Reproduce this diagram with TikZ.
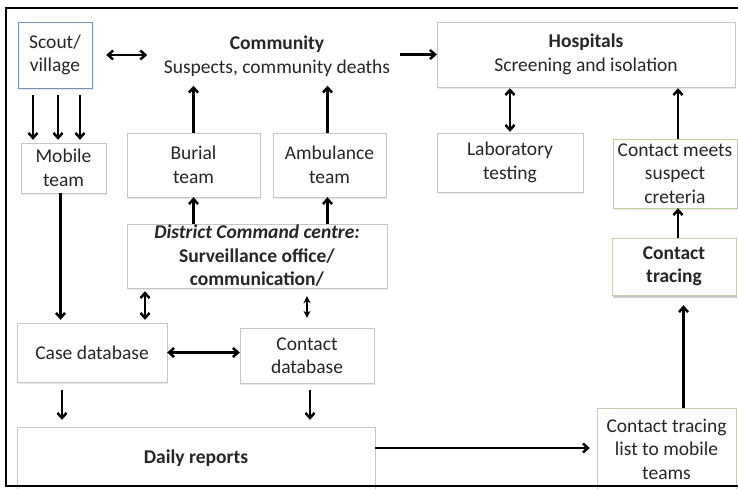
\documentclass[tikz,border=0pt]{standalone}
\usepackage{fontspec}
\setmainfont{Carlito}
\usepackage{xcolor}
\usetikzlibrary{arrows.meta,shadows}

\definecolor{scoutblue}{RGB}{120,145,180}
\definecolor{meetgreen}{RGB}{190,210,150}
\definecolor{tracegray}{RGB}{200,205,180}

\tikzset{
  box/.style={draw=black!22, fill=white, text=black!85, align=center, inner sep=1pt,
    drop shadow={shadow xshift=0.6pt, shadow yshift=-1.5pt, opacity=0.18}},
  arr/.style={->, line width=2.5pt},
  dbl/.style={<->, line width=2.5pt}
}

\begin{document}
\begin{tikzpicture}[x=1pt, y=-1pt, font=\fontsize{19.5}{23.5}\selectfont,
  >={Straight Barb[length=5pt,width=9pt]}]
  \useasboundingbox (0,0) rectangle (738,488);
  \fill[white] (0,0) rectangle (738,488);

  % boxes
  \node[box, draw=scoutblue, minimum width=74, minimum height=66] (scout) at (55,55) {Scout/\\village};
  \node[text=black!85, align=center] (community) at (277,56) {\textbf{Community}\\Suspects, community deaths};
  \node[box, minimum width=298, minimum height=65] (hosp) at (586,54.5) {\textbf{Hospitals}\\Screening and isolation};
  \node[box, minimum width=85, minimum height=50] (mobile) at (63.5,168) {Mobile\\team};
  \node[box, minimum width=133, minimum height=64] (burial) at (193.5,165) {Burial\\team};
  \node[box, minimum width=113, minimum height=64] (amb) at (329.5,165) {Ambulance\\team};
  \node[box, minimum width=146, minimum height=59] (lab) at (510,162.5) {Laboratory\\testing};
  \node[box, draw=meetgreen, minimum width=124, minimum height=69] (meets) at (675,173.5) {Contact meets\\suspect\\creteria};
  \node[box, draw=tracegray, minimum width=124, minimum height=57,
    drop shadow={shadow xshift=0.6pt, shadow yshift=-2.5pt, opacity=0.35}] (tracing) at (674,266.5) {\textbf{Contact}\\\textbf{tracing}};
  \node[box, minimum width=260, minimum height=64] (district) at (257,256)
    {\textbf{\itshape District Command centre:}\\\textbf{Surveillance office/}\\\textbf{communication/}};
  \node[box, minimum width=150, minimum height=59] (casedb) at (92,352.5) {Case database};
  \node[box, minimum width=134, minimum height=55] (contactdb) at (307,355.5) {Contact\\database};
  \node[box, minimum width=358, minimum height=62] (daily) at (196,458) {\textbf{Daily reports}};
  \node[box, draw=tracegray, minimum width=139, minimum height=82] (ctlist) at (666.5,449) {Contact tracing\\list to mobile\\teams};

  % outer frame
  \draw[line width=2pt] (740,8) -- (6,8) -- (6,486) -- (740,486);

  % connectors
  \draw[dbl] ([xshift=14pt]scout.east) -- ([xshift=55pt]scout.east);
  \draw[arr] ([xshift=-37pt]hosp.west) -- (hosp.west);
  \draw[arr, shorten <=7pt, shorten >=3pt] ([xshift=-22pt]scout.south) -- ([xshift=-22pt]scout.south |- mobile.north);
  \draw[arr, shorten <=7pt, shorten >=3pt] ([xshift=3pt]scout.south) -- ([xshift=3pt]scout.south |- mobile.north);
  \draw[arr, shorten <=7pt, shorten >=3pt] ([xshift=25pt]scout.south) -- ([xshift=25pt]scout.south |- mobile.north);
  \draw[arr, shorten >=6pt] (burial.north) -- (burial.north |- community.south);
  \draw[arr, shorten >=6pt] ([xshift=-2pt]amb.north) -- ([xshift=-2pt]amb.north |- community.south);
  \draw[dbl, shorten <=1pt, shorten >=1pt] (lab.north) -- (lab.north |- hosp.south);
  \draw[arr, shorten >=1pt] ([xshift=3pt]meets.north) -- ([xshift=3pt]meets.north |- hosp.south);
  \draw[arr] ([xshift=4pt]tracing.north) -- ([xshift=4pt]tracing.north |- meets.south);
  \draw[arr, shorten >=10pt] ([xshift=17pt]ctlist.north) -- ([xshift=17pt]ctlist.north |- tracing.south);
  \draw[arr] (burial.south |- district.north) -- (burial.south);
  \draw[arr] ([xshift=-2pt]amb.south |- district.north) -- ([xshift=-2pt]amb.south);
  \draw[dbl, shorten <=3pt, shorten >=3pt] ([xshift=53pt]casedb.north) -- ([xshift=53pt]casedb.north |- district.south);
  \draw[line width=2.5pt, {Stealth[length=7pt,width=7pt]}-{Stealth[length=7pt,width=7pt]},
    shorten <=10pt, shorten >=8pt] (contactdb.north) -- (contactdb.north |- district.south);
  \draw[arr, shorten >=3pt] ([xshift=-3pt]mobile.south) -- ([xshift=-3pt]mobile.south |- casedb.north);
  \draw[dbl] (casedb.east) -- (casedb.east -| contactdb.west);
  \draw[arr, shorten <=8pt, shorten >=7pt] ([xshift=-30pt]casedb.south) -- ([xshift=-30pt]casedb.south |- daily.north);
  \draw[arr, shorten <=7pt, shorten >=7pt] ([xshift=3pt]contactdb.south) -- ([xshift=3pt]contactdb.south |- daily.north);
  \draw[arr, shorten >=7pt] ([yshift=10pt]daily.east) -- ([yshift=10pt]daily.east -| ctlist.west);
\end{tikzpicture}
\end{document}
